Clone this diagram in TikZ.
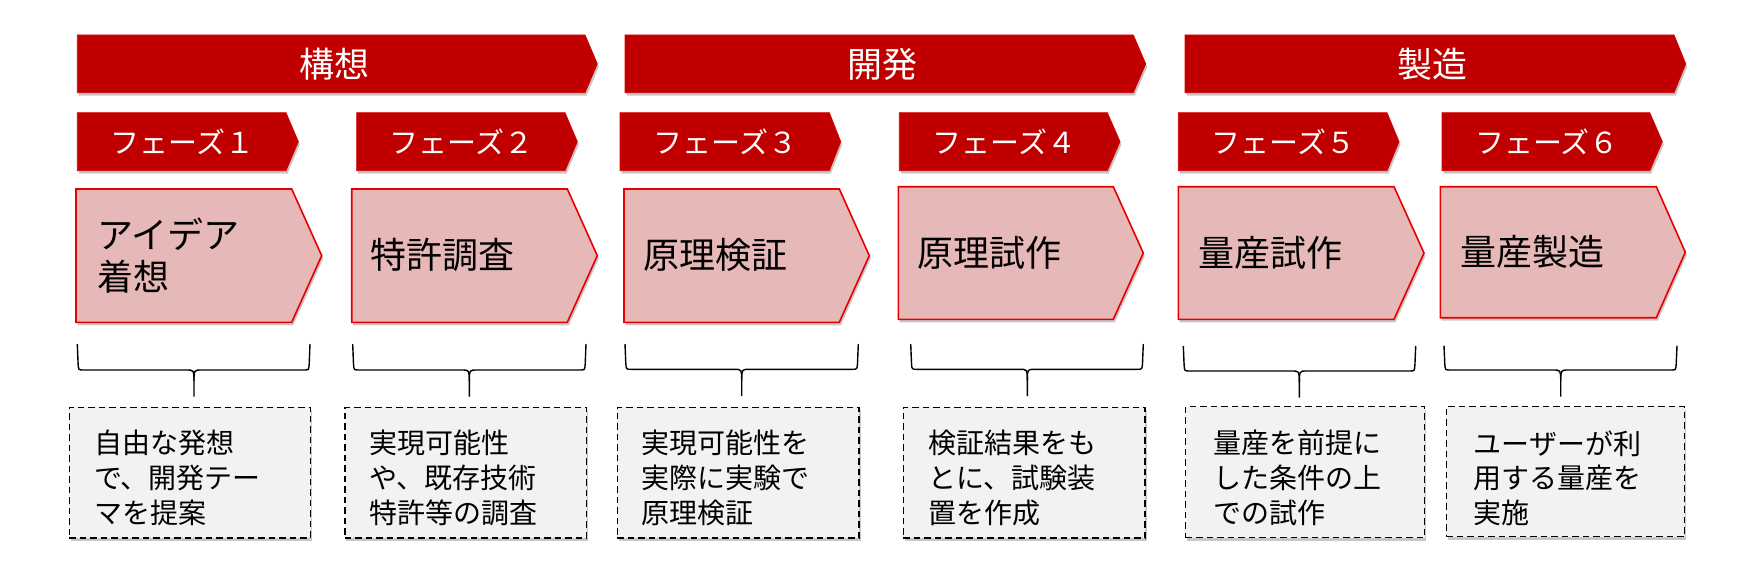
\documentclass[tikz,border=0pt]{standalone}
\usepackage{fontspec}
\setmainfont{Noto Sans CJK JP}
\usetikzlibrary{shadows}
\definecolor{bannerred}{HTML}{C00000}
\definecolor{pinkfill}{HTML}{E6B8B7}
\definecolor{pinkline}{HTML}{E60000}
\definecolor{notefill}{HTML}{F2F2F2}
\newcommand{\chevpath}[6]{% style, left, top, straight end, tip, bottom
  \path[#1] (#2,#3) -- (#4,#3) -- (#5,{(#3+#6)/2}) -- (#4,#6) -- (#2,#6) -- cycle;}
\newcommand{\bracepath}[6]{% L, R, C, T, M, B
  \draw[bracestyle] (#1,#4) -- ({#1+0.8},{#5-6}) .. controls ({#1+1.2},#5) .. ({#1+6},#5) -- ({#3-8},#5) .. controls (#3,#5) .. (#3,{#5+11}) -- (#3,#6);
  \draw[bracestyle] (#3,{#5+11}) .. controls (#3,#5) .. ({#3+8},#5) -- ({#2-6},#5) .. controls ({#2-1.2},#5) .. ({#2-0.8},{#5-6}) -- (#2,#4);}
\begin{document}
\begin{tikzpicture}[x=1pt,y=-1pt,
  softshadow/.style={drop shadow={shadow xshift=1.5pt,shadow yshift=-3pt,opacity=0.22,fill=black}},
  bannerstyle/.style={fill=bannerred,draw=pinkline!70!bannerred,line width=0.8pt,softshadow},
  mainstyle/.style={fill=pinkfill,draw=pinkline,line width=1.6pt,line join=miter,softshadow},
  notebox/.style={fill=notefill,draw=black,line width=1.4pt,dash pattern=on 6.5pt off 4pt,softshadow,inner sep=0pt},
  bracestyle/.style={draw=black,line width=1.4pt},
  bannertext/.style={text=white,font=\fontsize{35}{40}\selectfont,inner sep=0pt},
  phasetext/.style={text=white,font=\fontsize{29}{34}\selectfont,inner sep=0pt},
  maintext/.style={text=black,font=\fontsize{36}{41.7}\selectfont,inner sep=0pt,anchor=west,align=left},
  notetext/.style={text=black,font=\fontsize{28}{34.7}\selectfont,inner sep=0pt,anchor=west,align=left}]
\useasboundingbox (0,0) rectangle (1758,578);
% banners
\chevpath{bannerstyle}{77.3}{35}{585}{597.3}{92.7}
\chevpath{bannerstyle}{625}{35}{1133.3}{1145.7}{92.7}
\chevpath{bannerstyle}{1185}{35}{1674}{1685.7}{92.7}
\node[bannertext] (b1) at (334,64) {構想};
\node[bannertext] (b2) at (882.5,64) {開発};
\node[bannertext] (b3) at (1432,64) {製造};
% phases
\chevpath{bannerstyle}{77.3}{112.7}{286}{298.3}{170.7}
\chevpath{bannerstyle}{356.7}{112.7}{565}{577.3}{170.7}
\chevpath{bannerstyle}{620}{112.7}{829.3}{840.7}{170.7}
\chevpath{bannerstyle}{899.3}{112.7}{1107.3}{1120}{170.7}
\chevpath{bannerstyle}{1178.3}{112.7}{1387}{1399}{170.7}
\chevpath{bannerstyle}{1442}{112.7}{1649.7}{1662.3}{170.7}
\node[phasetext] (p1) at (182.5,141.7) {フェーズ１};
\node[phasetext] (p2) at (461.5,141.7) {フェーズ２};
\node[phasetext] (p3) at (725.5,141.7) {フェーズ３};
\node[phasetext] (p4) at (1004.3,141.7) {フェーズ４};
\node[phasetext] (p5) at (1283.5,141.7) {フェーズ５};
\node[phasetext] (p6) at (1547,141.7) {フェーズ６};
% main chevrons
\chevpath{mainstyle}{76}{189}{291.7}{321.7}{322.3}
\chevpath{mainstyle}{351.7}{189}{567.3}{597.3}{322.3}
\chevpath{mainstyle}{624}{189}{839.3}{869.3}{322.3}
\chevpath{mainstyle}{898.3}{186.7}{1113.3}{1143.3}{319.3}
\chevpath{mainstyle}{1178.3}{186.7}{1394}{1424}{319.3}
\chevpath{mainstyle}{1440.3}{186.7}{1656.3}{1685.3}{317.7}
\node[maintext] (m1) at (97,255.8) {アイデア\\着想};
\node[maintext] (m2) at (370.5,255) {特許調査};
\node[maintext] (m3) at (643,255) {原理検証};
\node[maintext] (m4) at (917,253) {原理試作};
\node[maintext] (m5) at (1198,253.3) {量産試作};
\node[maintext] (m6) at (1460,251.7) {量産製造};
% braces
\bracepath{77.3}{310}{194}{344}{370}{396.7}
\bracepath{352.7}{586}{469.3}{344}{370}{396.7}
\bracepath{625}{858.3}{741.7}{344}{369.3}{396}
\bracepath{910.7}{1143.3}{1027.3}{344}{369.3}{396}
\bracepath{1183.3}{1415.7}{1299.3}{346}{371}{397.7}
\bracepath{1444}{1677}{1560.7}{345.7}{370}{396.7}
% note boxes
\node[notebox,minimum width=241.4pt,minimum height=130.7pt] (n1) at (190,472.7) {};
\node[notebox,minimum width=241.7pt,minimum height=130.7pt] (n2) at (465.8,472.7) {};
\node[notebox,minimum width=241.7pt,minimum height=130.7pt] (n3) at (738.2,472.7) {};
\node[notebox,minimum width=241.7pt,minimum height=130.7pt] (n4) at (1024.2,472.7) {};
\node[notebox,minimum width=239pt,minimum height=130.8pt] (n5) at (1305.2,472.1) {};
\node[notebox,minimum width=238.4pt,minimum height=130pt] (n6) at (1565.5,471.7) {};
\node[notetext] (t1) at (93.8,478) {自由な発想\\で、開発テー\\マを提案};
\node[notetext] (t2) at (369,478) {実現可能性\\や、既存技術\\特許等の調査};
\node[notetext] (t3) at (641.2,478) {実現可能性を\\実際に実験で\\原理検証};
\node[notetext] (t4) at (928,478) {検証結果をも\\とに、試験装\\置を作成};
\node[notetext] (t5) at (1213,478) {量産を前提に\\した条件の上\\での試作};
\node[notetext] (t6) at (1473.5,478) {ユーザーが利\\用する量産を\\実施};
\end{tikzpicture}
\end{document}
